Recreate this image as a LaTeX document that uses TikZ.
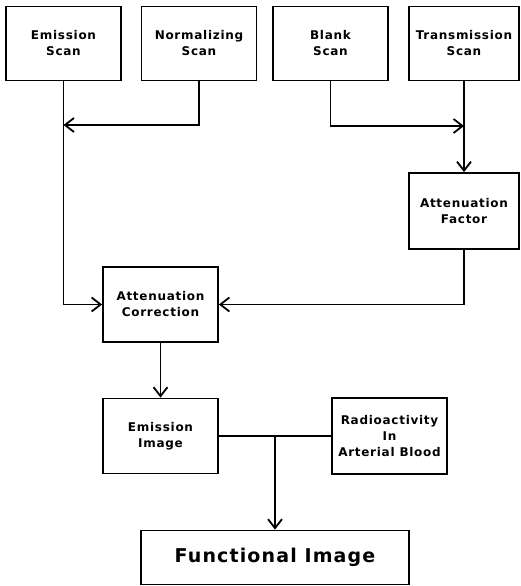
\documentclass[tikz,border=0pt]{standalone}
\usepackage{fontspec}
\usepackage{tikz}
\usetikzlibrary{arrows.meta}
\newfontfamily\dotfont[LetterSpace=6]{DejaVu Sans}
\newcommand{\boxfont}{\dotfont\bfseries\fontsize{12}{16}\selectfont}
\newcommand{\bigfont}{\dotfont\bfseries\fontsize{19}{23}\selectfont}

\begin{document}
\begin{tikzpicture}[x=1pt,y=-1pt,
        box/.style={draw, line width=1.8pt, minimum width=115pt, minimum height=74pt,
            inner sep=1pt, align=center, font=\boxfont},
        arr/.style={line width=1.8pt, -{Straight Barb[length=9pt,width=14pt]}},
        link/.style={line width=1.8pt}]
        \useasboundingbox (0,0) rectangle (520,586);
        % scans
        \node[box] (escan) at (63.5,43.5) {Emission\\Scan};
        \node[box] (nscan) at (199,43.5) {Normalizing\\Scan};
        \node[box] (bscan) at (330.5,43.5) {Blank\\Scan};
        \node[box, minimum width=110pt] (tscan) at (464,43.5) {Transmission\\Scan};
        % processing
        \node[box, minimum width=110pt, minimum height=76pt] (afactor) at (464,211) {Attenuation\\Factor};
        \node[box, minimum height=75pt] (acorr) at (160.5,304.5) {Attenuation\\Correction};
        \node[box, minimum height=75pt] (eimage) at (160.5,436) {Emission\\Image};
        \node[box, minimum height=76pt] (rblood) at (389.5,436) {Radioactivity\\In\\Arterial Blood};
        \node[box, minimum width=268pt, minimum height=54pt, font=\bigfont] (fimage) at (275,557.5) {Functional Image};
        \coordinate (njoin) at (63.5,125);
        \coordinate (bjoin) at (464,126);
        % connectors
        \draw[arr] (escan.south) |- (acorr.west);
        \draw[arr] (nscan.south) |- (njoin);
        \draw[arr] (bscan.south) |- (bjoin);
        \draw[arr] (tscan.south) -- (afactor.north);
        \draw[arr] (afactor.south) |- (acorr.east);
        \draw[arr] (acorr.south) -- (eimage.north);
        \draw[link] (eimage.east) -- (rblood.west);
        \draw[arr] (fimage.north |- eimage.east) -- (fimage.north);
    \end{tikzpicture}
\end{document}
